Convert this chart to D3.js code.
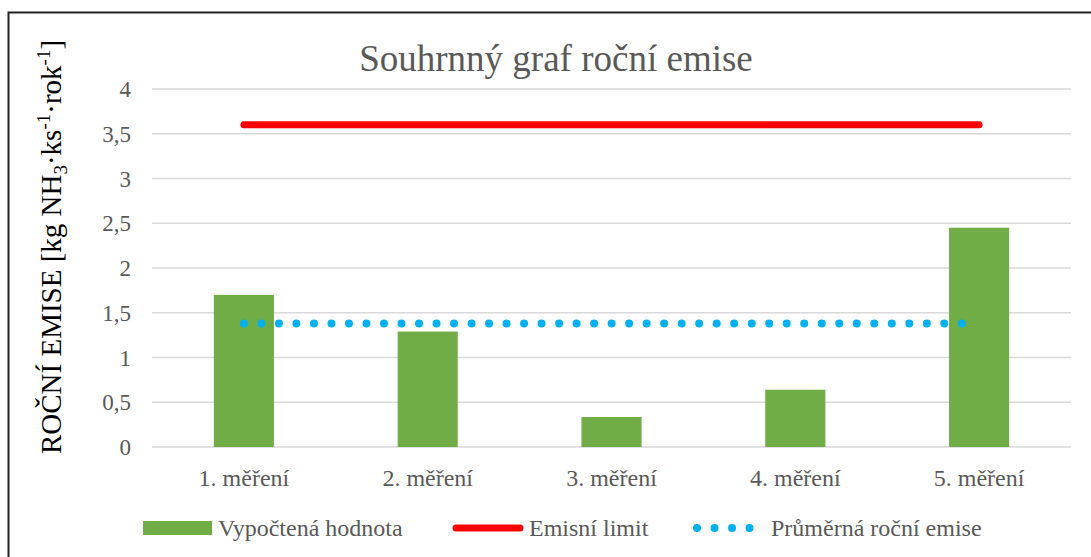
<!DOCTYPE html>
<html>
<head>
<meta charset="utf-8">
<script src="https://cdn.jsdelivr.net/npm/d3@7"></script>
<style>
  body { margin: 0; background: #fff; }
</style>
</head>
<body>
<div id="chart"></div>
<script>
const categories = ["1. měření", "2. měření", "3. měření", "4. měření", "5. měření"];
const computed = [1.70, 1.29, 0.335, 0.64, 2.45];
const emissionLimit = [3.6, 3.6, 3.6, 3.6, 3.6];
const averageEmission = [1.38, 1.38, 1.38, 1.38, 1.38];
const yTicks = [0, 0.5, 1, 1.5, 2, 2.5, 3, 3.5, 4];

const width = 1091, height = 557;
const plot = { left: 152, right: 1071, top: 89, bottom: 447 };
const serif = "'Liberation Serif', 'Times New Roman', Tinos, 'DejaVu Serif', serif";

const svg = d3.select("#chart").append("svg")
    .attr("width", width)
    .attr("height", height)
    .style("font-family", serif);

// frame
svg.append("rect")
    .attr("x", 8.5).attr("y", 12.5)
    .attr("width", 1200).attr("height", 700)
    .attr("fill", "none")
    .attr("stroke", "#222")
    .attr("stroke-width", 2);

const x = d3.scaleBand()
    .domain(categories)
    .range([plot.left, plot.right])
    .paddingInner(0.673)
    .paddingOuter(0.3365);

const xc = d3.scalePoint()
    .domain(categories)
    .range([plot.left, plot.right])
    .padding(0.5);

const y = d3.scaleLinear()
    .domain([0, 4])
    .range([plot.bottom, plot.top]);

// gridlines
svg.append("g")
    .selectAll("line")
    .data(yTicks)
    .join("line")
    .attr("x1", plot.left).attr("x2", plot.right)
    .attr("y1", d => y(d)).attr("y2", d => y(d))
    .attr("stroke", "#d9d9d9")
    .attr("stroke-width", 1.3);

// y tick labels
const fmt = d => String(d).replace(".", ",");
svg.append("g")
    .selectAll("text")
    .data(yTicks)
    .join("text")
    .attr("x", 131)
    .attr("y", d => y(d))
    .attr("dy", "0.35em")
    .attr("text-anchor", "end")
    .attr("fill", "#595959")
    .style("font-family", serif)
    .style("font-size", "23px")
    .text(fmt);

// x labels
svg.append("g")
    .selectAll("text")
    .data(categories)
    .join("text")
    .attr("x", d => xc(d))
    .attr("y", 486)
    .attr("text-anchor", "middle")
    .attr("fill", "#595959")
    .style("font-family", serif)
    .style("font-size", "24px")
    .text(d => d);

// bars
svg.append("g")
    .selectAll("rect")
    .data(computed)
    .join("rect")
    .attr("x", (d, i) => x(categories[i]))
    .attr("y", d => y(d))
    .attr("width", x.bandwidth())
    .attr("height", d => y(0) - y(d))
    .attr("fill", "#70ad47");

// emission limit line
const line = d3.line()
    .x((d, i) => xc(categories[i]))
    .y(d => y(d));

svg.append("path")
    .attr("d", line(emissionLimit))
    .attr("fill", "none")
    .attr("stroke", "#ff0000")
    .attr("stroke-width", 7)
    .attr("stroke-linecap", "round");

// average line (round dots)
svg.append("path")
    .attr("d", line(averageEmission))
    .attr("fill", "none")
    .attr("stroke", "#00b0f0")
    .attr("stroke-width", 8)
    .attr("stroke-linecap", "round")
    .attr("stroke-dasharray", "0.01 17.5");

// title
svg.append("text")
    .attr("x", 556)
    .attr("y", 71)
    .attr("text-anchor", "middle")
    .attr("fill", "#595959")
    .style("font-family", serif)
    .style("font-size", "37px")
    .text("Souhrnný graf roční emise");

// y axis title
const yt = svg.append("text")
    .attr("transform", "translate(61, 247) rotate(-90)")
    .attr("text-anchor", "middle")
    .attr("fill", "#000")
    .style("font-family", serif)
    .style("font-size", "29px");
yt.append("tspan").text("ROČNÍ EMISE [kg NH");
yt.append("tspan").attr("dy", 6).style("font-size", "19px").text("3");
yt.append("tspan").attr("dy", -6).text("·ks");
yt.append("tspan").attr("dy", -11).style("font-size", "19px").text("-1");
yt.append("tspan").attr("dy", 11).text("·rok");
yt.append("tspan").attr("dy", -11).style("font-size", "19px").text("-1");
yt.append("tspan").attr("dy", 11).text("]");

// legend
const legendY = 528;
const lg = svg.append("g").style("font-family", serif);
lg.append("rect")
    .attr("x", 143).attr("y", legendY - 7)
    .attr("width", 69).attr("height", 14)
    .attr("fill", "#70ad47");
lg.append("text")
    .attr("x", 218).attr("y", legendY).attr("dy", "0.35em")
    .attr("fill", "#595959").style("font-size", "24px")
    .text("Vypočtená hodnota");

lg.append("line")
    .attr("x1", 456).attr("x2", 520)
    .attr("y1", legendY).attr("y2", legendY)
    .attr("stroke", "#ff0000").attr("stroke-width", 7)
    .attr("stroke-linecap", "round");
lg.append("text")
    .attr("x", 529).attr("y", legendY).attr("dy", "0.35em")
    .attr("fill", "#595959").style("font-size", "24px")
    .text("Emisní limit");

lg.append("line")
    .attr("x1", 697).attr("x2", 760)
    .attr("y1", legendY).attr("y2", legendY)
    .attr("stroke", "#00b0f0").attr("stroke-width", 8)
    .attr("stroke-linecap", "round")
    .attr("stroke-dasharray", "0.01 17.5");
lg.append("text")
    .attr("x", 771).attr("y", legendY).attr("dy", "0.35em")
    .attr("fill", "#595959").style("font-size", "24px")
    .text("Průměrná roční emise");
</script>
</body>
</html>
